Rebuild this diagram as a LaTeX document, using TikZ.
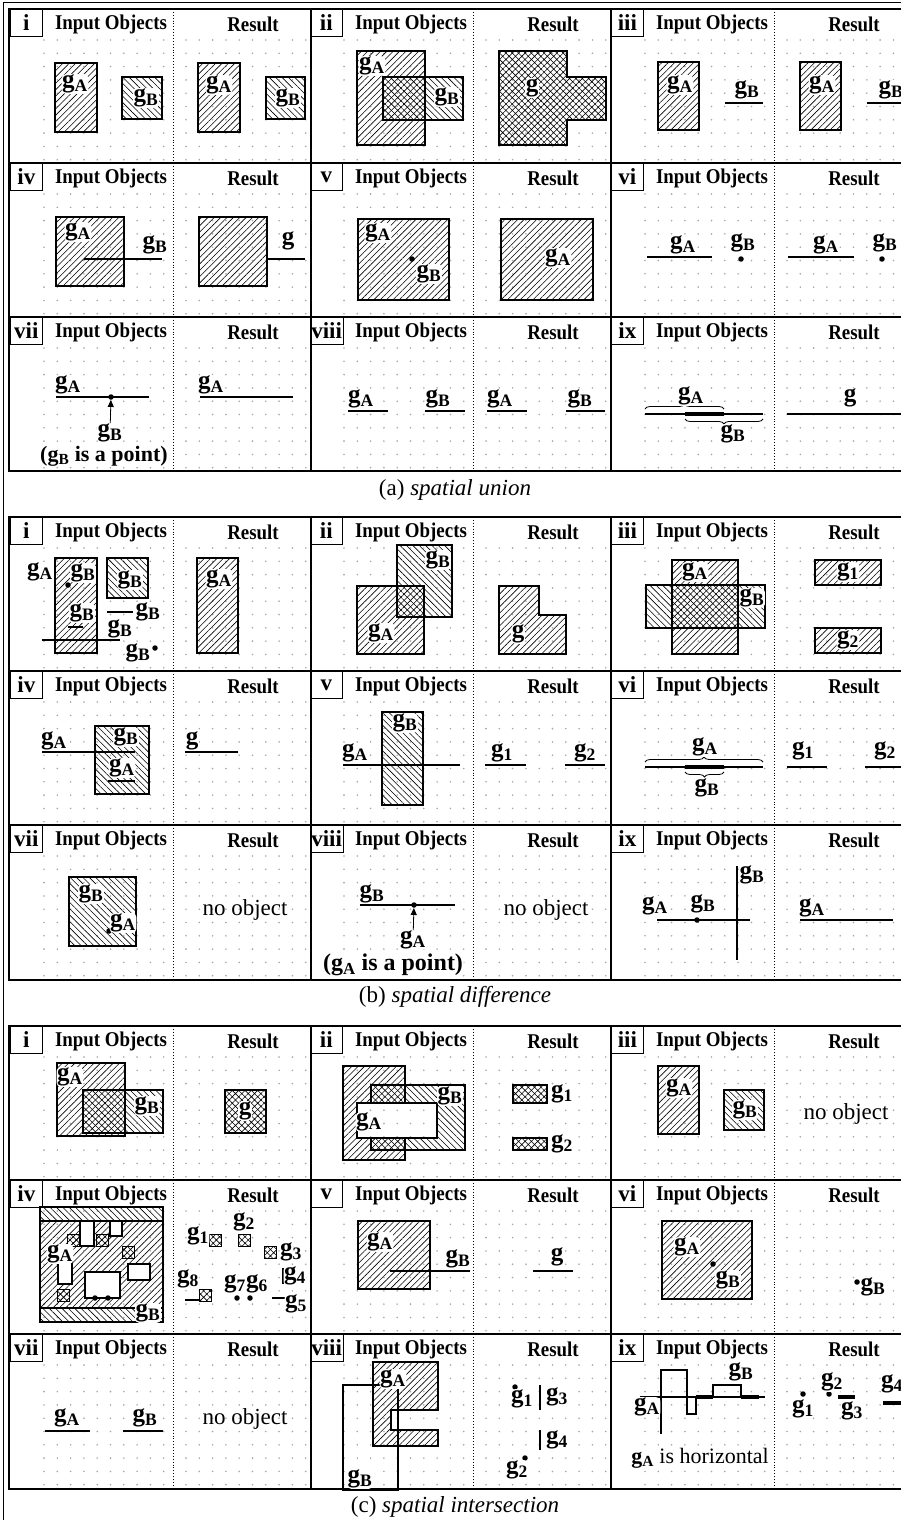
\documentclass[tikz,border=0pt]{standalone}
\usepackage{fontspec}
\setmainfont{Liberation Serif}
\usetikzlibrary{arrows.meta,patterns.meta,decorations.pathreplacing}

\newcommand{\hdfont}{\fontsize{21}{21}\selectfont\bfseries}
\newcommand{\gfont}{\fontsize{25}{25}\selectfont\bfseries}
\newcommand{\gs}[1]{g\textsubscript{#1}}

\tikzset{
  griddot/.style={fill=black!35},
  divider/.style={dotted, line width=0.9pt},
  numbox/.style={draw, line width=0.7pt, fill=white, anchor=north west, minimum width=32pt,
    minimum height=27pt, inner sep=1pt, font=\fontsize{23}{23}\selectfont\bfseries},
  head/.style={font=\hdfont, inner sep=1pt},
  gl/.style={font=\gfont, inner sep=0.6pt, fill=white, rounded corners=4pt},
  outl/.style={draw, line width=1.6pt},
  geo/.style={line width=1.6pt},
  thk/.style={line width=4.5pt},
  hatchA/.style={pattern={Lines[angle=45,distance=4.5pt,line width=0.6pt]}},
  hatchB/.style={pattern={Lines[angle=-45,distance=4.5pt,line width=0.6pt]}},
  hatchX/.style={pattern={Hatch[angle=45,distance=4.5pt,line width=0.6pt]}},
  gpt/.style={circle, fill, inner sep=0pt, minimum size=5.5pt},
  brc/.style={decorate, decoration={brace, amplitude=5pt}, line width=0.8pt},
  ptr/.style={-{Triangle[length=7pt,width=6pt]}, line width=0.8pt},
  notext/.style={font=\fontsize{23}{23}\selectfont, inner sep=1pt},
  captxt/.style={font=\fontsize{23}{23}\selectfont},
  secbox/.style={line width=2.2pt},
}

% one panel: grid, divider, headers, numeral
\newcommand{\oppanel}[4]{%
  \begin{scope}[shift={(#1,#2)}]
    \foreach \k in {0,...,9}{
      \foreach \j in {0,...,9}{
        \fill[griddot] (34+13.3*\k,31+13.3*\j) circle (0.9pt);
        \fill[griddot] (176+13.3*\k,31+13.3*\j) circle (0.9pt);
      }
    }
    \draw[divider] (163,0) -- (163,154);
    \node[head] (#4-in) at (101,15) {\scalebox{0.9}[1]{Input Objects}};
    \node[head] (#4-out) at (243,15) {\scalebox{0.9}[1]{Result}};
    \node[numbox] (#4-num) at (0,0) {#3};
  \end{scope}}

\begin{document}
\begin{tikzpicture}[x=1pt,y=-1pt]
  \useasboundingbox (0,0) rectangle (901,1520);
  \draw[line width=1pt] (3,3) rectangle (930,1540);

  % ---------------- (a) spatial union
  \foreach \r/\n/\id [count=\c from 0] in {9/i/ai,9/ii/aii,9/iii/aiii,163/iv/aiv,163/v/av,163/vi/avi,317/vii/avii,317/viii/aviii,317/ix/aix}{
    \pgfmathsetmacro{\px}{int(10+mod(\c,3)*300.5)}
    \oppanel{\px}{\r}{\n}{\id}
  }
  \draw[secbox] (9,9) rectangle (915,471);
  \draw[secbox] (9,163) -- (915,163) (9,317) -- (915,317) (311,9) -- (311,471) (611,9) -- (611,471);

  \begin{scope}[shift={(10,9)}]
    \draw[outl,hatchA] (45,54) rectangle (87,123);
    \draw[outl,hatchB] (112,68) rectangle (152,110);
    \node[gl] (ai-a) at (65,75) {\gs{A}};
    \node[gl] (ai-b) at (136,89) {\gs{B}};
    \draw[outl,hatchA] (188,54) rectangle (230,123);
    \draw[outl,hatchB] (256,68) rectangle (295,110);
    \node[gl] (ai-ra) at (209,76) {\gs{A}};
    \node[gl] (ai-rb) at (278,89) {\gs{B}};
  \end{scope}
  \begin{scope}[shift={(311,9)}]
    \draw[outl,hatchA] (46,42) rectangle (114,136);
    \draw[outl,hatchB] (72,68) rectangle (152,111);
    \node[gl] (aii-a) at (61,57) {\gs{A}};
    \node[gl] (aii-b) at (136,88) {\gs{B}};
    \draw[outl,hatchX] (188,42) -- (256,42) -- (256,68) -- (295,68) -- (295,111) -- (256,111) -- (256,136) -- (188,136) -- cycle;
    \node[gl] (aii-r) at (221,79) {g};
  \end{scope}
  \begin{scope}[shift={(611,9)}]
    \draw[outl,hatchA] (47,53) rectangle (88,121);
    \node[gl] (aiii-a) at (69,76) {\gs{A}};
    \draw[geo] (114,94) -- (152,94);
    \node[gl] (aiii-b) at (136,81) {\gs{B}};
    \draw[outl,hatchA] (189,53) rectangle (230,121);
    \node[gl] (aiii-ra) at (211,76) {\gs{A}};
    \draw[geo] (256,94) -- (300,94);
    \node[gl] (aiii-rb) at (280,81) {\gs{B}};
  \end{scope}
  \begin{scope}[shift={(10,163)}]
    \draw[outl,hatchA] (46,54) rectangle (114,123);
    \node[gl] (aiv-a) at (68,69) {\gs{A}};
    \draw[geo] (74,96) -- (152,96);
    \node[gl] (aiv-b) at (145,82) {\gs{B}};
    \draw[outl,hatchA] (189,54) rectangle (257,123);
    \draw[geo] (257,96) -- (295,96);
    \node[gl] (aiv-r) at (278,78) {g};
  \end{scope}
  \begin{scope}[shift={(311,163)}]
    \draw[outl,hatchA] (47,56) rectangle (138,137);
    \node[gl] (av-a) at (67,70) {\gs{A}};
    \node[gpt] (av-p) at (101,96) {};
    \node[gl] (av-b) at (118,111) {\gs{B}};
    \draw[outl,hatchA] (190,56) rectangle (282,137);
    \node[gl] (av-r) at (247,95) {\gs{A}};
  \end{scope}
  \begin{scope}[shift={(611,163)}]
    \draw[geo] (36,94) -- (101,94);
    \node[gl] (avi-a) at (72,82) {\gs{A}};
    \node[gpt] (avi-p) at (130,96) {};
    \node[gl] (avi-b) at (132,80) {\gs{B}};
    \draw[geo] (177,94) -- (243,94);
    \node[gl] (avi-ra) at (215,82) {\gs{A}};
    \node[gpt] (avi-rp) at (271,96) {};
    \node[gl] (avi-rb) at (274,80) {\gs{B}};
  \end{scope}
  \begin{scope}[shift={(10,317)}]
    \draw[geo] (46,80) -- (139,80);
    \node[gl] (avii-a) at (58,68) {\gs{A}};
    \node[gpt] (avii-p) at (101,80) {};
    \node[gl] (avii-b) at (100,116) {\gs{B}};
    \draw[ptr] (avii-b) -- (avii-p);
    \node[gl, font=\fontsize{22}{22}\selectfont\bfseries] (avii-t) at (94,139) {(\gs{B} is a point)};
    \draw[geo] (190,80) -- (283,80);
    \node[gl] (avii-r) at (201,68) {\gs{A}};
  \end{scope}
  \begin{scope}[shift={(311,317)}]
    \draw[geo] (37,94) -- (77,94);
    \node[gl] (aviii-a) at (50,82) {\gs{A}};
    \draw[geo] (114,94) -- (154,94);
    \node[gl] (aviii-b) at (127,82) {\gs{B}};
    \draw[geo] (176,94) -- (216,94);
    \node[gl] (aviii-ra) at (189,82) {\gs{A}};
    \draw[geo] (255,94) -- (294,94);
    \node[gl] (aviii-rb) at (269,82) {\gs{B}};
  \end{scope}
  \begin{scope}[shift={(611,317)}]
    \draw[geo] (34,97) -- (152,97);
    \draw[thk] (74,97) -- (113,97);
    \draw[brc] (34,92) -- (113,92);
    \draw[brc] (152,102) -- (74,102);
    \node[gl] (aix-a) at (80,79) {\gs{A}};
    \node[gl] (aix-b) at (122,117) {\gs{B}};
    \draw[geo] (176,97) -- (300,97);
    \node[gl] (aix-r) at (239,81) {g};
  \end{scope}
  \node[captxt] (capa) at (455,490) {(a) \textit{spatial union}};

  % ---------------- (b) spatial difference
  \foreach \r/\n/\id [count=\c from 0] in {517/i/bi,517/ii/bii,517/iii/biii,671/iv/biv,671/v/bv,671/vi/bvi,825/vii/bvii,825/viii/bviii,825/ix/bix}{
    \pgfmathsetmacro{\px}{int(10+mod(\c,3)*300.5)}
    \oppanel{\px}{\r}{\n}{\id}
  }
  \draw[secbox] (9,517) rectangle (915,980);
  \draw[secbox] (9,671) -- (915,671) (9,825) -- (915,825) (311,517) -- (311,980) (611,517) -- (611,980);

  \begin{scope}[shift={(10,517)}]
    \draw[outl,hatchA] (45,41) rectangle (87,136);
    \node[gl] (bi-a) at (30,55) {\gs{A}};
    \node[gpt] (bi-p1) at (58,68) {};
    \node[gl] (bi-b1) at (73,56) {\gs{B}};
    \draw[geo] (58,110) -- (73,110);
    \node[gl] (bi-b2) at (72,96) {\gs{B}};
    \draw[outl,hatchB] (97,41) rectangle (138,81);
    \node[gl] (bi-b3) at (120,63) {\gs{B}};
    \draw[geo] (97,95) -- (123,95);
    \node[gl] (bi-b4) at (138,95) {\gs{B}};
    \draw[geo] (32,123) -- (110,123);
    \node[gl] (bi-b5) at (110,112) {\gs{B}};
    \node[gpt] (bi-p2) at (145,131) {};
    \node[gl] (bi-b6) at (128,136) {\gs{B}};
    \draw[outl,hatchA] (187,41) rectangle (228,136);
    \node[gl] (bi-r) at (209,62) {\gs{A}};
  \end{scope}
  \begin{scope}[shift={(311,517)}]
    \draw[outl,hatchA] (46,69) rectangle (113,137);
    \draw[outl,hatchB] (86,28) rectangle (141,100);
    \node[gl] (bii-a) at (70,116) {\gs{A}};
    \node[gl] (bii-b) at (127,43) {\gs{B}};
    \draw[outl,hatchA] (188,69) -- (228,69) -- (228,98) -- (255,98) -- (255,137) -- (188,137) -- cycle;
    \node[gl] (bii-r) at (207,117) {g};
  \end{scope}
  \begin{scope}[shift={(611,517)}]
    \draw[outl,hatchA] (61,43) rectangle (127,137);
    \draw[outl,hatchB] (35,68) rectangle (154,111);
    \node[gl] (biii-a) at (84,55) {\gs{A}};
    \node[gl] (biii-b) at (141,81) {\gs{B}};
    \draw[outl,hatchA] (204,43) rectangle (270,68);
    \node[gl] (biii-r1) at (237,55) {\gs{1}};
    \draw[outl,hatchA] (204,111) rectangle (270,136);
    \node[gl] (biii-r2) at (237,123) {\gs{2}};
  \end{scope}
  \begin{scope}[shift={(10,671)}]
    \draw[outl,hatchB] (85,55) rectangle (139,123);
    \draw[geo] (32,81) -- (125,81);
    \draw[geo] (98,110) -- (125,110);
    \node[gl] (biv-a) at (44,70) {\gs{A}};
    \node[gl] (biv-b) at (116,66) {\gs{B}};
    \node[gl] (biv-a2) at (112,97) {\gs{A}};
    \draw[geo] (175,81) -- (228,81);
    \node[gl] (biv-r) at (182,70) {g};
  \end{scope}
  \begin{scope}[shift={(311,671)}]
    \draw[outl,hatchB] (71,41) rectangle (112,134);
    \node[gl] (bv-b) at (94,52) {\gs{B}};
    \draw[geo] (32,94) -- (149,94);
    \node[gl] (bv-a) at (44,82) {\gs{A}};
    \draw[geo] (174,94) -- (215,94);
    \node[gl] (bv-r1) at (191,82) {\gs{1}};
    \draw[geo] (254,94) -- (294,94);
    \node[gl] (bv-r2) at (274,82) {\gs{2}};
  \end{scope}
  \begin{scope}[shift={(611,671)}]
    \draw[geo] (34,96) -- (152,96);
    \draw[thk] (74,96) -- (113,96);
    \draw[brc] (34,91) -- (152,91);
    \draw[brc] (113,101) -- (74,101);
    \node[gl] (bvi-a) at (94,76) {\gs{A}};
    \node[gl] (bvi-b) at (96,117) {\gs{B}};
    \draw[geo] (176,96) -- (216,96);
    \node[gl] (bvi-r1) at (192,80) {\gs{1}};
    \draw[geo] (254,96) -- (300,96);
    \node[gl] (bvi-r2) at (274,80) {\gs{2}};
  \end{scope}
  \begin{scope}[shift={(10,825)}]
    \draw[outl,hatchB] (59,52) rectangle (126,121);
    \node[gl] (bvii-b) at (81,69) {\gs{B}};
    \node[gpt] (bvii-p) at (99,106) {};
    \node[gl] (bvii-a) at (113,98) {\gs{A}};
    \node[notext] (bvii-r) at (235,85) {no object};
  \end{scope}
  \begin{scope}[shift={(311,825)}]
    \draw[geo] (49,80) -- (144,80);
    \node[gl] (bviii-b) at (61,69) {\gs{B}};
    \node[gpt] (bviii-p) at (103,80) {};
    \node[gl] (bviii-a) at (102,115) {\gs{A}};
    \draw[ptr] (bviii-a) -- (bviii-p);
    \node[gl, font=\fontsize{24}{24}\selectfont\bfseries] (bviii-t) at (82,140) {(\gs{A} is a point)};
    \node[notext] (bviii-r) at (235,85) {no object};
  \end{scope}
  \begin{scope}[shift={(611,825)}]
    \draw[geo] (46,95) -- (139,95);
    \draw[geo] (126,41) -- (126,135);
    \node[gpt] (bix-p) at (86,95) {};
    \node[gl] (bix-a) at (44,81) {\gs{A}};
    \node[gl] (bix-b1) at (92,79) {\gs{B}};
    \node[gl] (bix-b2) at (141,50) {\gs{B}};
    \draw[geo] (189,95) -- (282,95);
    \node[gl] (bix-r) at (201,83) {\gs{A}};
  \end{scope}
  \node[captxt] (capb) at (455,997) {(b) \textit{spatial difference}};

  % ---------------- (c) spatial intersection
  \foreach \r/\n/\id [count=\c from 0] in {1026/i/ci,1026/ii/cii,1026/iii/ciii,1180/iv/civ,1180/v/cv,1180/vi/cvi,1334/vii/cvii,1334/viii/cviii,1334/ix/cix}{
    \pgfmathsetmacro{\px}{int(10+mod(\c,3)*300.5)}
    \oppanel{\px}{\r}{\n}{\id}
  }
  \draw[secbox] (9,1026) rectangle (915,1489);
  \draw[secbox] (9,1180) -- (915,1180) (9,1334) -- (915,1334) (311,1026) -- (311,1489) (611,1026) -- (611,1489);

  \begin{scope}[shift={(10,1026)}]
    \draw[outl,hatchA] (47,37) rectangle (115,110);
    \draw[outl,hatchB] (73,64) rectangle (153,107);
    \node[gl] (ci-a) at (60,51) {\gs{A}};
    \node[gl] (ci-b) at (137,80) {\gs{B}};
    \draw[outl,hatchX] (215,64) rectangle (256,107);
    \node[gl] (ci-r) at (235,85) {g};
  \end{scope}
  \begin{scope}[shift={(311,1026)}]
    \draw[outl,hatchA] (32,40) -- (94,40) -- (94,77) -- (46,77) -- (46,112) -- (94,112) -- (94,134) -- (32,134) -- cycle;
    \draw[outl,hatchB] (60,59) -- (154,59) -- (154,124) -- (60,124) -- (60,112) -- (126,112) -- (126,77) -- (60,77) -- cycle;
    \node[gl] (cii-a) at (58,96) {\gs{A}};
    \node[gl] (cii-b) at (139,70) {\gs{B}};
    \draw[outl,hatchX] (202,59) rectangle (236,77);
    \node[gl] (cii-r1) at (251,68) {\gs{1}};
    \draw[outl,hatchX] (202,112) rectangle (236,124);
    \node[gl] (cii-r2) at (251,118) {\gs{2}};
  \end{scope}
  \begin{scope}[shift={(611,1026)}]
    \draw[outl,hatchA] (47,40) rectangle (88,108);
    \node[gl] (ciii-a) at (68,62) {\gs{A}};
    \draw[outl,hatchB] (113,64) rectangle (153,104);
    \node[gl] (ciii-b) at (134,84) {\gs{B}};
    \node[notext] (ciii-r) at (235,88) {no object};
  \end{scope}
  \begin{scope}[shift={(10,1180)}]
    \draw[outl,hatchB] (30,27) rectangle (153,41);
    \draw[outl,hatchB] (30,128) rectangle (153,142);
    \draw[outl,hatchA] (30,41) rectangle (153,128);
    \foreach \xa/\ya/\xb/\yb in {70/41/84/66, 100/41/112/56, 48/82/62/104, 75/92/110/118, 118/84/140/100}
      \draw[outl,fill=white] (\xa,\ya) rectangle (\xb,\yb);
    \foreach \xa/\ya in {57/54, 86/54, 112/66, 47/109}
      \draw[line width=1pt,hatchX] (\xa,\ya) rectangle ++(12,12);
    \node[gl] (civ-a) at (50,74) {\gs{A}};
    \node[gl] (civ-b) at (138,133) {\gs{B}};
    \node[gpt] (civ-p7) at (85,118) {};
    \node[gpt] (civ-p6) at (98,118) {};
    \foreach \xa/\ya in {199/54, 228/54, 254/66, 189/109}
      \draw[line width=1pt,hatchX] (\xa,\ya) rectangle ++(12,12);
    \node[gl] (civ-r1) at (188,56) {\gs{1}};
    \node[gl] (civ-r2) at (234,42) {\gs{2}};
    \node[gl] (civ-r3) at (281,72) {\gs{3}};
    \node[gpt] (civ-rp7) at (227,118) {};
    \node[gpt] (civ-rp6) at (240,118) {};
    \node[gl] (civ-r7) at (225,104) {\gs{7}};
    \node[gl] (civ-r6) at (247,104) {\gs{6}};
    \draw[geo] (273,88) -- (273,104);
    \node[gl] (civ-r4) at (285,96) {\gs{4}};
    \draw[geo] (262,118) -- (276,118);
    \node[gl] (civ-r5) at (286,124) {\gs{5}};
    \draw[geo] (175,120) -- (189,120);
    \node[gl] (civ-r8) at (178,99) {\gs{8}};
  \end{scope}
  \begin{scope}[shift={(311,1180)}]
    \draw[outl,hatchA] (47,41) rectangle (119,109);
    \node[gl] (cv-a) at (69,62) {\gs{A}};
    \draw[geo] (79,91) -- (159,91);
    \node[gl] (cv-b) at (147,79) {\gs{B}};
    \draw[geo] (222,91) -- (262,91);
    \node[gl] (cv-r) at (246,77) {g};
  \end{scope}
  \begin{scope}[shift={(611,1180)}]
    \draw[outl,hatchA] (51,41) rectangle (141,119);
    \node[gl] (cvi-a) at (76,67) {\gs{A}};
    \node[gpt] (cvi-p) at (102,84) {};
    \node[gl] (cvi-b) at (117,100) {\gs{B}};
    \node[gpt] (cvi-rp) at (246,102) {};
    \node[gl] (cvi-rb) at (262,107) {\gs{B}};
  \end{scope}
  \begin{scope}[shift={(10,1334)}]
    \draw[geo] (35,97) -- (80,97);
    \node[gl] (cvii-a) at (57,84) {\gs{A}};
    \draw[geo] (113,97) -- (153,97);
    \node[gl] (cvii-b) at (135,84) {\gs{B}};
    \node[notext] (cvii-r) at (235,85) {no object};
  \end{scope}
  \begin{scope}[shift={(311,1334)}]
    \draw[outl,hatchA] (62,28) -- (127,28) -- (127,76) -- (80,76) -- (80,96) -- (127,96) -- (127,112) -- (62,112) -- cycle;
    \draw[geo] (32,51) -- (87,51) -- (87,156) -- (32,156) -- cycle;
    \node[gl] (cviii-a) at (82,45) {\gs{A}};
    \node[gl] (cviii-b) at (49,145) {\gs{B}};
    \node[gpt] (cviii-p1) at (204,53) {};
    \node[gl] (cviii-r1) at (211,65) {\gs{1}};
    \draw[geo] (229,51) -- (229,76);
    \node[gl] (cviii-r3) at (246,63) {\gs{3}};
    \draw[geo] (229,96) -- (229,116);
    \node[gl] (cviii-r4) at (246,106) {\gs{4}};
    \node[gpt] (cviii-p2) at (214,124) {};
    \node[gl] (cviii-r2) at (206,136) {\gs{2}};
  \end{scope}
  \begin{scope}[shift={(611,1334)}]
    \draw[geo] (29,63) -- (154,63);
    \draw[geo] (50,100) -- (50,36) -- (76,36) -- (76,80) -- (85,80) -- (85,63) -- (102,63) -- (102,51) -- (130,51) -- (130,63) -- (148,63);
    \draw[thk] (85,63) -- (102,63) (130,63) -- (148,63);
    \node[gl] (cix-a) at (36,73) {\gs{A}};
    \node[gl] (cix-b) at (130,38) {\gs{B}};
    \node[gl, font=\fontsize{22}{22}\selectfont] (cix-t) at (89,124) {\textbf{\gs{A}} is horizontal};
    \node[gpt] (cix-p1) at (192,60) {};
    \node[gl] (cix-r1) at (192,75) {\gs{1}};
    \node[gpt] (cix-p2) at (218,60) {};
    \node[gl] (cix-r2) at (221,48) {\gs{2}};
    \draw[thk] (227,63) -- (244,63);
    \node[gl] (cix-r3) at (241,77) {\gs{3}};
    \draw[thk] (272,69) -- (290,69);
    \node[gl] (cix-r4) at (281,50) {\gs{4}};
  \end{scope}
  \node[captxt] (capc) at (455,1507) {(c) \textit{spatial intersection}};
\end{tikzpicture}
\end{document}
